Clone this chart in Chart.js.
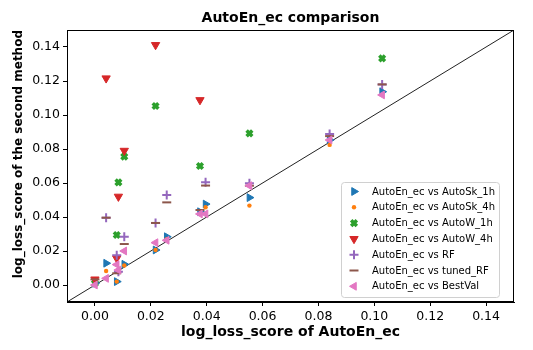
<!DOCTYPE html>
<html>
<head>
<meta charset="utf-8">
<script src="https://cdn.jsdelivr.net/npm/chart.js@4.4.0/dist/chart.umd.min.js"></script>
<style>
  html, body { margin: 0; padding: 0; background: #fff; }
</style>
</head>
<body>
<canvas id="scoreChart" width="533" height="350"></canvas>
<script>
// log_loss of AutoEn_ec per dataset (x) and of the compared method (y)
const aeScores  = [0.0, 0.004, 0.0078, 0.0084, 0.0105, 0.0217, 0.0257, 0.0376, 0.0396, 0.0553, 0.084, 0.1028];
const autoSk1h  = [0.001, 0.0128, 0.002, null, 0.0122, 0.0206, 0.0284, 0.0431, 0.0476, 0.0514, 0.0853, 0.1137];
const autoSk4h  = [null, 0.0082, 0.002, null, 0.0115, 0.0206, 0.027, null, 0.0457, 0.0467, 0.0824, null];
const autoW1h   = [0.001, null, 0.0294, 0.0604, 0.0755, 0.1053, null, 0.070, null, 0.0892, null, 0.1333];
const autoW4h   = [0.0033, 0.1216, 0.0157, 0.052, 0.079, 0.1412, null, 0.1088, null, null, null, null];
const rfScores  = [null, 0.0396, 0.0175, 0.0078, 0.0284, 0.0365, 0.053, null, 0.0604, 0.0598, 0.0888, 0.118];
const tunedRf   = [0.0033, 0.0396, 0.0069, null, 0.0241, 0.0365, 0.0486, 0.0441, 0.0585, 0.0584, 0.0876, 0.118];
const bestVal   = [0.0, 0.0039, 0.012, 0.0088, 0.020, 0.0249, 0.0263, 0.0418, 0.0418, 0.0584, 0.0853, 0.1118];

const xTicks = [0, 0.02, 0.04, 0.06, 0.08, 0.10, 0.12, 0.14];
const yTicks = [0, 0.02, 0.04, 0.06, 0.08, 0.10, 0.12, 0.14];
const axisMin = -0.01;
const axisMax = 0.15;

function pts(vals) {
    return aeScores.map((x, i) => ({ x: x, y: vals[i] })).filter(p => p.y !== null);
}

function series(label, vals, color, style, radius, rotation, bw, order) {
    return {
        label: label,
        data: pts(vals),
        pointStyle: style,
        pointRadius: radius,
        pointHoverRadius: radius,
        pointRotation: rotation,
        backgroundColor: color,
        borderColor: color,
        pointBorderWidth: bw,
        showLine: false,
        order: order
    };
}

const datasets = [
    series('AutoEn_ec vs AutoSk_1h', autoSk1h, '#1f77b4', 'triangle', 4.5, 90, 1, 7),
    series('AutoEn_ec vs AutoSk_4h', autoSk4h, '#ff7f0e', 'circle', 2.2, 0, 0, 6),
    series('AutoEn_ec vs AutoW_1h', autoW1h, '#2ca02c', 'crossRot', 4, 0, 3.5, 5),
    series('AutoEn_ec vs AutoW_4h', autoW4h, '#d62728', 'triangle', 4.8, 180, 1, 4),
    series('AutoEn_ec vs RF', rfScores, '#9467bd', 'cross', 4.5, 0, 2, 3),
    series('AutoEn_ec vs tuned_RF', tunedRf, '#8c564b', 'line', 4.5, 0, 2, 2),
    series('AutoEn_ec vs BestVal', bestVal, '#e377c2', 'triangle', 4.5, 270, 1, 1),
    {
        label: 'diagonal',
        data: [{ x: axisMin, y: axisMin }, { x: axisMax, y: axisMax }],
        showLine: true,
        borderColor: '#222',
        borderWidth: 1,
        pointRadius: 0,
        order: 8
    }
];

// spines on top/right + matplotlib style legend in the lower right
const framePlugin = {
    id: 'frame',
    afterDatasetsDraw(chart) {
        const ctx = chart.ctx;
        const a = chart.chartArea;
        ctx.save();
        ctx.strokeStyle = '#000';
        ctx.lineWidth = 1;
        ctx.strokeRect(Math.round(a.left) + 0.5, Math.round(a.top) + 0.5,
                       Math.round(a.right - a.left) - 1, Math.round(a.bottom - a.top) - 1);

        // legend box
        const bx = a.right - 173, by = a.bottom - 120, bw = 158, bh = 115;
        ctx.beginPath();
        ctx.roundRect(bx + 0.5, by + 0.5, bw, bh, 3);
        ctx.fillStyle = 'rgba(255,255,255,0.8)';
        ctx.fill();
        ctx.strokeStyle = '#d0d0d0';
        ctx.stroke();

        ctx.font = '10px "DejaVu Sans"';
        ctx.textBaseline = 'middle';
        ctx.textAlign = 'left';
        chart.data.datasets.slice(0, 7).forEach((ds, i) => {
            const y = by + 9.5 + i * 15.8;
            ctx.fillStyle = ds.backgroundColor;
            ctx.strokeStyle = ds.borderColor;
            ctx.lineWidth = ds.pointBorderWidth;
            Chart.helpers.drawPoint(ctx, {
                pointStyle: ds.pointStyle,
                radius: ds.pointRadius,
                rotation: ds.pointRotation,
                borderWidth: ds.pointBorderWidth
            }, bx + 13, y);
            ctx.fillStyle = '#000';
            ctx.fillText(ds.label, bx + 31, y + 0.5);
        });
        ctx.restore();
    }
};

const ctx = document.getElementById('scoreChart').getContext('2d');
const scoreChart = new Chart(ctx, {
    type: 'scatter',
    data: { datasets: datasets },
    options: {
        responsive: false,
        animation: false,
        layout: { padding: { left: 0, right: 19, top: 0, bottom: 0 } },
        plugins: {
            legend: { display: false },
            tooltip: { enabled: false },
            title: {
                display: true,
                text: 'AutoEn_ec comparison',
                color: '#000',
                fullSize: false,
                font: { family: 'DejaVu Sans', size: 14, weight: 'bold' },
                padding: { top: 9.6, bottom: 3.6 }
            }
        },
        scales: {
            x: {
                type: 'linear',
                min: axisMin,
                max: axisMax,
                afterBuildTicks: s => { s.ticks = xTicks.map(v => ({ value: v })); },
                afterFit: s => { s.height = 48; },
                ticks: {
                    color: '#000',
                    padding: 3,
                    font: { family: 'DejaVu Sans', size: 12.5 },
                    callback: v => v.toFixed(2)
                },
                grid: { drawOnChartArea: false, drawTicks: true, tickLength: 4, color: '#000' },
                border: { display: true, color: '#000', width: 1 },
                title: {
                    display: true,
                    text: 'log_loss_score of AutoEn_ec',
                    color: '#000',
                    font: { family: 'DejaVu Sans', size: 14, weight: 'bold' },
                    padding: { top: 0, bottom: 9.6 }
                }
            },
            y: {
                type: 'linear',
                min: axisMin,
                max: axisMax,
                afterBuildTicks: s => { s.ticks = yTicks.map(v => ({ value: v })); },
                afterFit: s => { s.width = 67; },
                ticks: {
                    color: '#000',
                    padding: 3,
                    font: { family: 'DejaVu Sans', size: 12.5 },
                    callback: v => v.toFixed(2)
                },
                grid: { drawOnChartArea: false, drawTicks: true, tickLength: 4, color: '#000' },
                border: { display: true, color: '#000', width: 1 },
                title: {
                    display: true,
                    text: 'log_loss_score of the second method',
                    color: '#000',
                    align: 'end',
                    font: { family: 'DejaVu Sans', size: 12, weight: 'bold' },
                    padding: { top: 11.8, bottom: 0 }
                }
            }
        }
    },
    plugins: [framePlugin]
});
</script>
</body>
</html>
